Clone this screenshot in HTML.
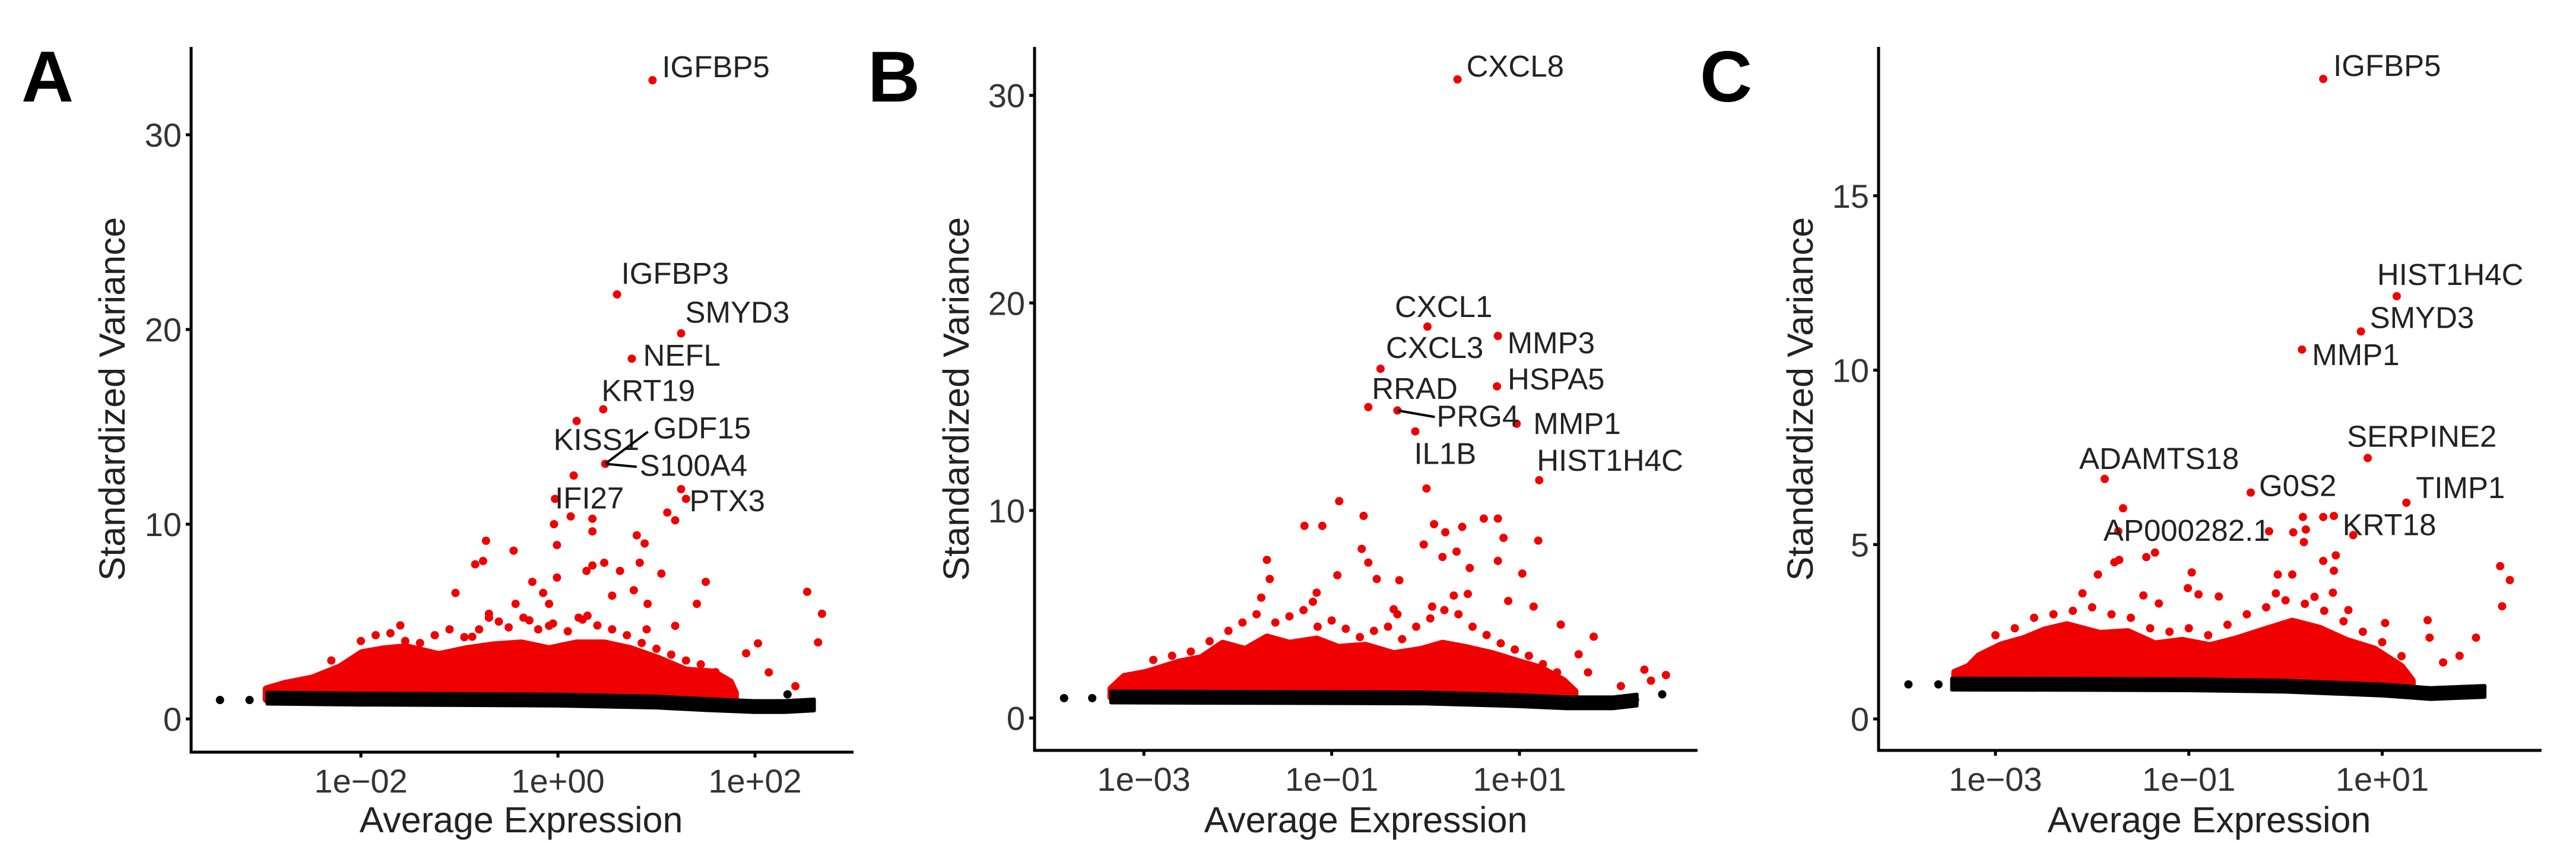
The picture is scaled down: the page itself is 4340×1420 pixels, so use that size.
<!DOCTYPE html>
<html><head><meta charset="utf-8">
<style>
html,body{margin:0;padding:0;background:#fff;}
svg{display:block;font-family:"Liberation Sans",Arial,sans-serif;}
</style></head>
<body>
<svg id="fig" width="4340" height="1420" viewBox="0 0 4340 1420" xmlns="http://www.w3.org/2000/svg"></svg>
<script>
// ---------- Panel A data (x in log10 average expression, y standardized variance) ----------
const aRedLog = [0.96,0.60,1.25,0.75,0.46,0.19,0.48,0.16,-0.03,1.25,1.30,1.11,1.19,0.13,-0.04,0.35,0.35,-0.73,-0.45,-0.84,-0.76,-0.01,0.80,0.88,0.35,0.47,0.83,1.05,1.50,-0.26,-0.01,0.29,0.63,-1.04,-0.15,0.55,0.77,-0.09,-0.43,0.91,1.41,2.53,2.68,2.64,2.03,1.91,2.14,2.41,1.19,-0.70,-0.29,0.21,-0.09,-0.87];
const aRedY   = [32.8,21.8,19.8,18.5,15.9,15.3,13.1,12.5,11.3,11.8,11.3,10.6,10.2,10.4,10.0,10.28,9.63,9.15,8.64,7.94,8.11,8.93,9.43,9.01,7.88,8.02,8.02,7.46,7.04,7.04,7.26,7.6,7.6,6.47,6.47,6.33,6.61,5.91,5.91,5.91,5.91,6.53,5.40,3.93,3.88,3.37,2.39,1.68,4.78,5.20,5.06,5.20,4.78,4.22];
const aSpeckLog = [-2.0,-1.85,-1.7,-1.55,-1.4,-1.25,-1.1,-0.95,-0.8,-0.6,-0.5,-0.35,-0.2,-0.05,0.1,0.25,0.4,0.55,0.7,0.85,1.0,1.15,1.3,1.45,1.6,-2.3,-1.6,-0.7,0.3,0.9];
const aSpeckY   = [4.0,4.3,4.4,4.0,3.9,4.3,4.6,4.2,4.6,5.0,4.7,5.2,4.6,4.9,4.5,5.1,4.8,4.6,4.3,3.9,3.6,3.3,3.0,2.8,2.4,3.0,4.8,5.4,5.3,4.6];
const aCloudLog = [-2.96,-2.77,-2.49,-2.21,-1.99,-1.76,-1.54,-1.21,-0.93,-0.65,-0.37,-0.09,0.19,0.47,0.74,1.02,1.30,1.58,1.75,1.80];
const aCloudY   = [1.54,1.82,2.10,2.67,3.40,3.60,3.70,3.30,3.60,3.80,3.90,3.60,3.90,3.90,3.60,3.10,2.50,2.40,1.90,1.34];
const aBandLog = [-2.95,-2,-1,0,1,1.5,2,2.3,2.6];
const aBandY   = [1.05,1.0,0.98,0.95,0.85,0.72,0.62,0.62,0.7];
const aBlackLog = [-3.43,-3.13,2.33,2.5,2.55];
const aBlackY   = [0.97,0.97,1.26,0.7,0.65];
const aGenes = ["IGFBP5","IGFBP3","SMYD3","NEFL","KRT19","KISS1","GDF15","S100A4","IFI27","PTX3"];
const aGeneLog = [0.96,0.60,1.25,0.75,0.46,0.19,0.48,0.48,-0.03,1.25];
const aGeneY   = [32.8,21.8,19.8,18.5,15.9,15.3,13.1,13.1,11.3,11.8];

// ---------- Panel B data ----------
const bRedLog = [0.34,0.02,0.77,-0.48,0.76,-0.61,-0.30,-0.11,0.97,1.21,0.01,-0.92,-0.66,-1.29,-1.10,0.09,0.21,0.39,0.62,0.77,0.83,1.20,-0.02,0.33,-0.68,-0.61,0.18,-1.69,0.47,0.77,1.03,-0.94,-0.52,-1.66,-0.28,1.44,1.79,2.33,2.56,2.40,1.63,2.08,1.73,0.88,1.15,-1.16,0.45,0.07,-0.34];
const bRedY   = [30.77,18.86,18.41,16.83,15.98,14.98,14.82,13.81,14.18,11.46,11.06,10.45,9.74,9.26,9.26,9.34,8.95,9.21,9.61,9.61,8.68,8.55,8.36,8.02,8.15,7.49,7.76,7.62,7.23,7.57,6.96,6.88,6.70,6.70,6.64,4.50,3.92,2.33,2.07,1.80,3.07,1.54,2.20,5.64,5.37,6.04,5.98,5.37,5.24];
const bSpeckLog = [-2.9,-2.7,-2.5,-2.3,-2.1,-1.95,-1.8,-1.6,-1.45,-1.3,-1.15,-1.0,-0.85,-0.7,-0.55,-0.4,-0.25,-0.1,0.05,0.2,0.35,0.5,0.65,0.8,0.95,1.1,1.25,1.4,-1.75,-1.2,-0.3,0.3];
const bSpeckY   = [2.8,3.0,3.2,3.7,4.2,4.6,5.0,4.6,4.9,5.2,4.4,4.7,4.3,3.9,4.2,4.4,3.8,4.4,4.8,5.2,5.0,4.4,4.0,3.6,3.3,3.0,2.6,2.2,5.8,5.6,5.0,5.9];
const bCloudLog = [-3.35,-3.21,-2.97,-2.62,-2.39,-2.16,-1.92,-1.69,-1.45,-1.16,-0.93,-0.64,-0.34,-0.05,0.18,0.42,0.71,1.00,1.23,1.47,1.59];
const bCloudY   = [1.41,2.0,2.2,2.7,2.9,3.6,3.3,3.9,3.6,3.8,3.4,3.5,3.1,3.3,3.6,3.4,3.1,2.7,2.4,1.8,1.28];
const bBandLog = [-3.35,-2,-1,0,1,1.5,2,2.25];
const bBandY   = [1.0,0.98,0.97,0.95,0.82,0.72,0.72,0.85];
const bBlackLog = [-3.85,-3.55,2.23,2.52];
const bBlackY   = [0.96,0.96,0.88,1.14];
const bGenes = ["CXCL8","CXCL1","MMP3","CXCL3","HSPA5","RRAD","PRG4","IL1B","MMP1","HIST1H4C"];
const bGeneLog = [0.34,0.02,0.77,-0.48,0.76,-0.61,-0.30,-0.11,0.97,1.21];
const bGeneY   = [30.77,18.86,18.41,16.83,15.98,14.98,14.82,13.81,14.18,11.46];

// ---------- Panel C data ----------
const cRedLog = [0.39,1.15,0.78,0.17,0.85,-1.87,-0.36,1.25,-1.68,-0.17,0.70,0.18,0.39,0.50,0.21,0.08,0.19,-1.73,-1.72,-1.77,-1.94,-1.44,-1.35,-0.97,-1.01,0.39,0.52,0.50,-0.08,0.07,0.49,2.22,2.32,2.24,1.97,1.80,1.47,1.49,1.03,1.63,0.65,-1.47,-1.31,-0.90,-0.69];
const cRedY   = [18.35,12.12,11.11,10.59,7.48,6.88,6.49,6.20,6.04,5.38,5.27,5.79,5.79,5.82,5.43,5.35,5.07,5.38,4.56,4.49,4.14,4.64,4.77,4.20,3.75,4.53,4.69,4.25,4.14,4.14,3.62,4.38,3.98,3.23,2.33,1.81,2.83,2.33,2.75,1.62,3.12,3.54,3.31,3.57,3.51];
const cSpeckLog = [-3.0,-2.8,-2.6,-2.4,-2.2,-2.0,-1.8,-1.6,-1.4,-1.2,-1.0,-0.8,-0.6,-0.4,-0.2,0.0,0.2,0.4,0.6,0.8,1.0,1.2,-2.1,-0.1,0.3];
const cSpeckY   = [2.4,2.6,2.9,3.0,3.1,3.2,3.0,2.9,2.6,2.5,2.6,2.4,2.7,3.0,3.2,3.4,3.3,3.1,2.8,2.5,2.2,1.8,3.6,3.6,3.5];
const cCloudLog = [-3.42,-3.28,-3.17,-2.94,-2.71,-2.49,-2.26,-1.92,-1.63,-1.35,-1.07,-0.78,-0.50,-0.22,0.07,0.35,0.63,0.92,1.20,1.31];
const cCloudY   = [1.34,1.50,1.81,2.12,2.30,2.55,2.70,2.45,2.50,2.15,2.25,2.10,2.30,2.55,2.80,2.60,2.25,2.0,1.50,1.10];
const cBandLog = [-3.45,-2,-1,0,1,1.5,2.06];
const cBandY   = [0.99,0.98,0.97,0.93,0.82,0.72,0.78];
const cBlackLog = [-3.90,-3.59];
const cBlackY   = [0.99,0.99];
const cGenes = ["IGFBP5","HIST1H4C","SMYD3","MMP1","SERPINE2","ADAMTS18","G0S2","TIMP1","AP000282.1","KRT18"];
const cGeneLog = [0.39,1.15,0.78,0.17,0.85,-1.87,-0.36,1.25,-0.17,0.70];
const cGeneY   = [18.35,12.12,11.11,10.59,7.48,6.88,6.49,6.20,5.38,5.27];

const yTicksA = [0,10,20,30], yTicksB = [0,10,20,30], yTicksC = [0,5,10,15];
const xTicksA = [-2,0,2], xTickLabA = ["1e\u221202","1e+00","1e+02"];
const xTicksBC = [-3,-1,1], xTickLabBC = ["1e\u221203","1e\u221201","1e+01"];

const NS = "http://www.w3.org/2000/svg";
const svg = document.getElementById("fig");
function mk(tag, attrs, parent){ const e=document.createElementNS(NS,tag); for(const k in attrs) e.setAttribute(k,attrs[k]); (parent||svg).appendChild(e); return e; }

const RED = "#f00000";
const R = 7;

function panel(cfg){
  const g = mk("g",{});
  
  
  const X = v => cfg.xRef + cfg.dec*(v - cfg.xRefLog);
  const Y = v => cfg.y0 - cfg.yUnit*v;
  // red cloud
  let d = "M" + X(cfg.cloudLog[0]) + "," + Y(1);
  for(let i=0;i<cfg.cloudLog.length;i++) d += " L" + X(cfg.cloudLog[i]) + "," + Y(cfg.cloudY[i]);
  d += " L" + X(cfg.cloudLog[cfg.cloudLog.length-1]) + "," + Y(1) + " Z";
  const cloud = mk("path",{d:d, fill:RED, stroke:RED, "stroke-width":12, "stroke-linejoin":"round"}, g);
  
  
  // speckle points near cloud top
  for(let i=0;i<cfg.speckLog.length;i++){
    const c = mk("circle",{cx:X(cfg.speckLog[i]), cy:Y(cfg.speckY[i]), r:R, fill:RED}, g);
    
    
  }
  // red points
  for(let i=0;i<cfg.redLog.length;i++){
    const c = mk("circle",{cx:X(cfg.redLog[i]), cy:Y(cfg.redY[i]), r:R, fill:RED}, g);
    
    
  }
  // black band
  let top="", bot="";
  for(let i=0;i<cfg.bandLog.length;i++){ top += (i?" L":"M") + X(cfg.bandLog[i]) + "," + (Y(cfg.bandY[i])-10); }
  for(let i=cfg.bandLog.length-1;i>=0;i--){ bot += " L" + X(cfg.bandLog[i]) + "," + (Y(cfg.bandY[i])+9); }
  const band = mk("path",{d: top+bot+" Z", fill:"#000", stroke:"#000", "stroke-width":6, "stroke-linejoin":"round"}, g);
  
  
  for(let i=0;i<cfg.blackLog.length;i++){
    const c = mk("circle",{cx:X(cfg.blackLog[i]), cy:Y(cfg.blackY[i]), r:R, fill:"#000"}, g);
    
    
  }
  // gene labels
  for(let i=0;i<cfg.genes.length;i++){
    const px = X(cfg.geneLog[i]), py = Y(cfg.geneY[i]);
    const o = cfg.offs[i];
    if(o[2]){
      const ln = mk("line",{x1:px,y1:py,x2:px+o[2],y2:py+o[3],stroke:"#000","stroke-width":4}, g);
      
      
    }
    const t = mk("text",{x:px+o[0], y:py+o[1], "font-size":51, fill:"#222"}, g);
    t.textContent = cfg.genes[i];
    
    
  }
  // axes
  const ya = mk("line",{x1:cfg.ax,y1:cfg.top,x2:cfg.ax,y2:cfg.xAxisY+2.5,stroke:"#000","stroke-width":5}, g);
  
  
  const xa = mk("line",{x1:cfg.ax-2.5,y1:cfg.xAxisY,x2:cfg.right,y2:cfg.xAxisY,stroke:"#000","stroke-width":5}, g);
  
  
  cfg.yTicks.forEach(v=>{
    const ty = Y(v);
    const tk = mk("line",{x1:cfg.ax-9,y1:ty,x2:cfg.ax,y2:ty,stroke:"#000","stroke-width":5}, g);
    
    
    const t = mk("text",{x:cfg.ax-16, y:ty+20, "font-size":56, fill:"#333", "text-anchor":"end"}, g);
    t.textContent = v;
    
    
  });
  cfg.xTicks.forEach((v,i)=>{
    const tx = X(v);
    const tk = mk("line",{x1:tx,y1:cfg.xAxisY,x2:tx,y2:cfg.xAxisY+9,stroke:"#000","stroke-width":5}, g);
    
    
    const t = mk("text",{x:tx, y:cfg.xAxisY+68, "font-size":56, fill:"#333", "text-anchor":"middle"}, g);
    t.textContent = cfg.xTickLab[i];
    
    
  });
  const xt = mk("text",{x:cfg.xTitleX, y:1402, "font-size":61, fill:"#222", "text-anchor":"middle"}, g);
  xt.textContent = "Average Expression";
  
  
  const yt = mk("text",{x:0, y:0, "font-size":61, fill:"#222", "text-anchor":"middle", transform:"translate("+cfg.yTitleX+",672) rotate(-90)"}, g);
  yt.textContent = "Standardized Variance";
  
  
  const L = mk("text",{x:cfg.letterX, y:171, "font-size":122, "font-weight":"bold", fill:"#000"}, g);
  L.textContent = cfg.letter;
  
  
}

panel({name:"panel-a", letter:"A", letterX:36, ax:322, top:79, xAxisY:1267, right:1438,
  xRef:940, xRefLog:0, dec:166, y0:1211, yUnit:32.8,
  cloudLog:aCloudLog, cloudY:aCloudY, redLog:aRedLog, redY:aRedY, speckLog:aSpeckLog, speckY:aSpeckY, bandLog:aBandLog, bandY:aBandY,
  blackLog:aBlackLog, blackY:aBlackY, genes:aGenes, geneLog:aGeneLog, geneY:aGeneY,
  offs:[[16,-5],[7,-18],[7,-18],[19,12],[-3,-14],[-39,49],[81,-43,72,-54],[58,20,53,5],[0,16],[14,37]],
  yTicks:yTicksA, xTicks:xTicksA, xTickLab:xTickLabA, xTitleX:878, yTitleX:210});

panel({name:"panel-b", letter:"B", letterX:1462, ax:1743, top:79, xAxisY:1264, right:2860,
  xRef:2560, xRefLog:1, dec:158.2, y0:1209.5, yUnit:34.96,
  cloudLog:bCloudLog, cloudY:bCloudY, redLog:bRedLog, redY:bRedY, speckLog:bSpeckLog, speckY:bSpeckY, bandLog:bBandLog, bandY:bBandY,
  blackLog:bBlackLog, blackY:bBlackY, genes:bGenes, geneLog:bGeneLog, geneY:bGeneY,
  offs:[[15,-5],[-55,-16],[16,29],[9,-18],[18,5],[6,-14],[66,27,63,11],[-2,55],[28,17],[-4,-16]],
  yTicks:yTicksB, xTicks:xTicksBC, xTickLab:xTickLabBC, xTitleX:2301, yTitleX:1632});

panel({name:"panel-c", letter:"C", letterX:2864, ax:3165, top:79, xAxisY:1264, right:4282,
  xRef:4013.5, xRefLog:1, dec:162.9, y0:1211, yUnit:58.75,
  cloudLog:cCloudLog, cloudY:cCloudY, redLog:cRedLog, redY:cRedY, speckLog:cSpeckLog, speckY:cSpeckY, bandLog:cBandLog, bandY:cBandY,
  blackLog:cBlackLog, blackY:cBlackY, genes:cGenes, geneLog:cGeneLog, geneY:cGeneY,
  offs:[[17,-5],[-33,-19],[15,-6],[17,26],[-35,-19],[-43,-17],[14,6],[16,-8],[-279,16],[-18,0]],
  yTicks:yTicksC, xTicks:xTicksBC, xTickLab:xTickLabBC, xTitleX:3722, yTitleX:3054});
</script>
</body></html>
